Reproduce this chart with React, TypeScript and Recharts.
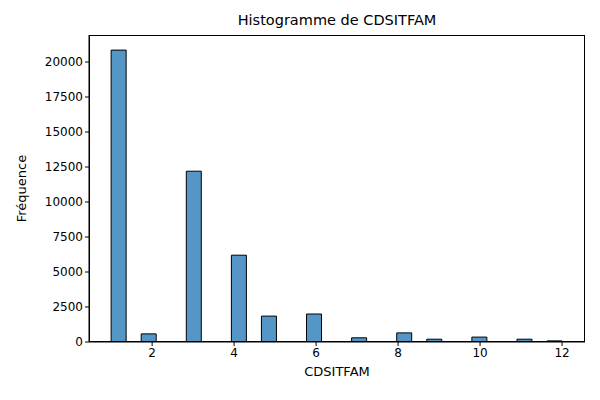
import React from "react";
import { ComposedChart, Bar, XAxis, YAxis, Label } from "recharts";

const categories = [1, 2, 3, 4, 5, 6, 7, 8, 9, 10, 11, 12];
const counts = [20850, 580, 12200, 6200, 1850, 2000, 300, 650, 200, 350, 200, 80];
const xTicks = [2, 4, 6, 8, 10, 12];
const yTicks = [0, 2500, 5000, 7500, 10000, 12500, 15000, 17500, 20000];

const NBINS = 30;
const MIN = 1;
const MAX = 12;
const W = (MAX - MIN) / NBINS;
const bins = Array.from({ length: NBINS }, (_, i) => ({ x: MIN + W * (i + 0.5), count: 0 }));
categories.forEach((v, k) => {
  const idx = Math.min(NBINS - 1, Math.floor((v - MIN) / W + 1e-9));
  bins[idx].count += counts[k];
});

const font = { fontFamily: "DejaVu Sans", fontSize: 12, fill: "#000" };

export default function App() {
  return (
    <div style={{ margin: -8, width: 600, height: 400, position: "relative", background: "#fff" }}>
      <div style={{ position: "absolute", top: 12, width: 600, left: 37, textAlign: "center", fontFamily: "DejaVu Sans", fontSize: 14.5 }}>
        Histogramme de CDSITFAM
      </div>
      <ComposedChart width={600} height={400} data={bins} barCategoryGap={0} barGap={0}
        margin={{ top: 35, right: 15, bottom: 28, left: 0 }}>
        <XAxis dataKey="x" type="number" domain={[0.46, 12.56]} ticks={xTicks} allowDataOverflow height={30}
          tick={font} tickLine={{ stroke: "#000" }} axisLine={{ stroke: "#000" }} tickSize={4}>
          <Label value="CDSITFAM" position="insideBottom" offset={-4} style={{ ...font, fontSize: 13 }} />
        </XAxis>
        <YAxis type="number" domain={[0, 21929]} ticks={yTicks} width={89} allowDataOverflow
          tick={font} tickLine={{ stroke: "#000" }} axisLine={{ stroke: "#000" }} tickSize={4}>
          <Label value="Fréquence" angle={-90} position="insideLeft" offset={21} style={{ ...font, fontSize: 13, textAnchor: "middle" }} />
        </YAxis>
        <Bar dataKey="count" fill="#5497c6" stroke="#000" strokeWidth={1} isAnimationActive={false} />
      </ComposedChart>
      <div style={{ position: "absolute", left: 89, top: 35, width: 496, height: 307, boxSizing: "border-box", border: "1px solid #000", pointerEvents: "none" }} />
    </div>
  );
}
